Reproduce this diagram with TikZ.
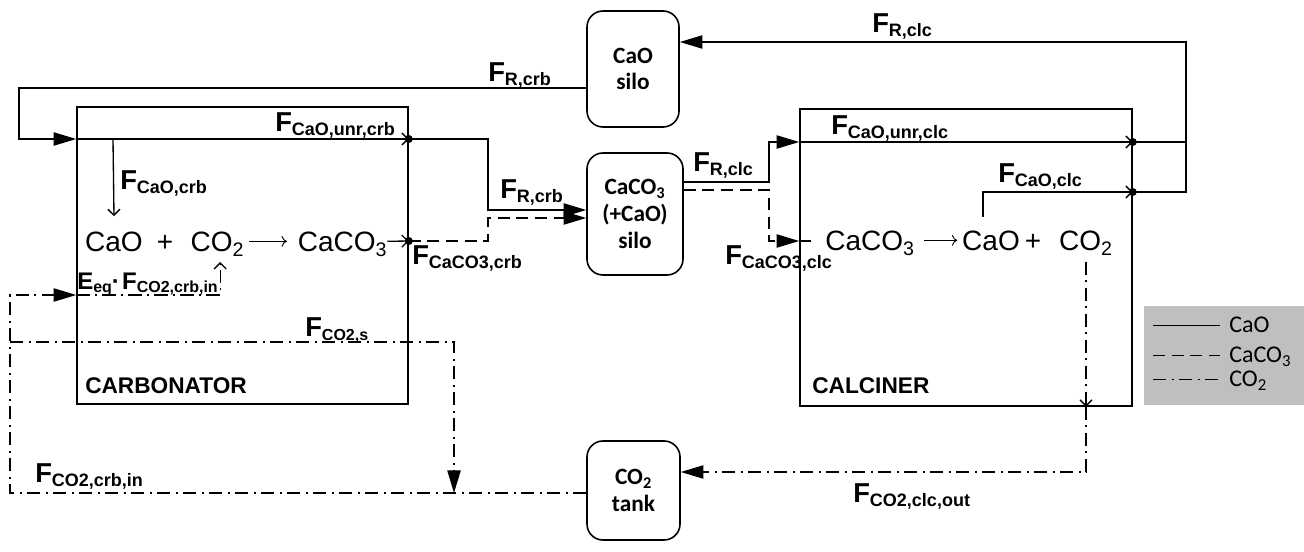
\documentclass[tikz,border=0pt]{standalone}
\usepackage{fontspec}
\setmainfont{Liberation Sans}
\newfontfamily\calibfont{Carlito}
\usepackage{tikz}
\usetikzlibrary{arrows.meta,positioning,calc}
\usepackage{xcolor}
\definecolor{LegGray}{RGB}{191,191,191}
\newcommand{\flw}[3][13.5]{\textbf{\fontsize{20.5}{20}\selectfont #2\fontsize{#1}{#1}\selectfont\raisebox{-2.5pt}{#3}}}
\newcommand{\flws}[2]{\textbf{\fontsize{18}{18}\selectfont #1\fontsize{12}{12}\selectfont\raisebox{-2pt}{#2}}}

\begin{document}
\begin{tikzpicture}[x=0.75pt,y=-0.75pt,
    cao/.style={line width=1pt},
    caco/.style={line width=1pt,dash pattern=on 9pt off 5pt},
    cotwo/.style={line width=1pt,dash pattern=on 10pt off 4pt on 1.5pt off 4pt},
    bigtip/.style={-{Triangle[length=17pt,width=10pt]}},
    smalltip/.style={-{Straight Barb[length=4.5pt,width=9pt]}},
    rxn/.style={line width=0.7pt,-{To[length=4pt,width=8pt]}},
    reactor/.style={draw,line width=1.2pt,inner sep=0pt},
    silo/.style={draw,line width=1.2pt,rounded corners=12pt,align=center,
      font=\calibfont\bfseries\fontsize{17.5}{20}\selectfont},
    chem/.style={anchor=base,inner sep=0pt,font=\fontsize{21}{21}\selectfont},
    lbl/.style={anchor=base west,inner sep=0pt},
    legtxt/.style={anchor=base west,inner sep=0pt,font=\calibfont\fontsize{18}{18}\selectfont},
    jdot/.style={circle,fill,inner sep=0pt,minimum size=6pt}]
  \useasboundingbox (0,0) rectangle (1304,552);

  % reactors and silos
  \node[reactor,minimum width=248.25pt,minimum height=222.75pt] (crb) at (242.5,255.5) {};
  \node[reactor,minimum width=249pt,minimum height=222.75pt] (clc) at (966,257.5) {};
  \node[lbl,font=\bfseries\fontsize{17}{17}\selectfont] (crbname) at (85,393) {CARBONATOR};
  \node[lbl,font=\bfseries\fontsize{17}{17}\selectfont] (clcname) at (812,393) {CALCINER};
  \node[silo,minimum width=69pt,minimum height=87pt] (caosilo) at (633,69) {CaO\\silo};
  \node[silo,minimum width=72pt,minimum height=91.5pt] (cacosilo) at (635,214) {CaCO\textsubscript{3}\\(+CaO)\\silo};
  \node[silo,minimum width=69.75pt,minimum height=74.25pt] (cotank) at (633.5,490.5) {CO\textsubscript{2}\\tank};

  % carbonation
  \node[chem] (crbCaO) at (114,252) {CaO};
  \node[chem] (crbPlus) at (165,252) {+};
  \node[chem] (crbCO2) at (217.5,252) {CO\textsubscript{2}};
  \node[chem] (crbCaCO3) at (342.5,252) {CaCO\textsubscript{3}};
  \draw[rxn] ([xshift=3.5pt,yshift=8pt]crbCO2.base east) -- ([xshift=-8pt,yshift=8pt]crbCaCO3.base west);

  % calcination
  \node[chem] (clcCaCO3) at (870,251) {CaCO\textsubscript{3}};
  \node[chem] (clcCaO) at (991,251) {CaO};
  \node[chem] (clcPlus) at (1033,251) {+};
  \node[chem] (clcCO2) at (1086,251) {CO\textsubscript{2}};
  \draw[rxn] ([xshift=7pt,yshift=8pt]clcCaCO3.base east) -- ([xshift=-3.5pt,yshift=8pt]clcCaO.base west);

  % CaO streams
  \coordinate (crbsplit) at (113,139);
  \coordinate (rjoin) at (1186,142);
  \draw[cao,bigtip] (caosilo.west |- 0,88) -| (19,139) -- (crb.west |- 0,139);
  \node[lbl] (lRcrb) at (488,82) {\flw{F}{R,crb}};
  \node[jdot] (j1) at (crb.east |- 0,139) {};
  \draw[cao,smalltip] (crb.west |- 0,139) -- (j1.center);
  \node[lbl] (lCaOunrcrb) at (275,132) {\flw{F}{CaO,unr,crb}};
  \draw[cao,smalltip] (crbsplit) -- ([yshift=12pt]crbCaO.north);
  \node[lbl] (lCaOcrb) at (120,190) {\flw{F}{CaO,crb}};
  \draw[cao,bigtip] (j1.center) -| (488,210) -- (cacosilo.west |- 0,210);
  \node[lbl] (lRcrb2) at (500,199) {\flw{F}{R,crb}};
  \draw[cao,bigtip] (cacosilo.east |- 0,182) -| (769,142) -- (clc.west |- 0,142);
  \node[lbl] (lRclc) at (693,172) {\flw{F}{R,clc}};
  \node[jdot] (j3) at (clc.east |- 0,142) {};
  \draw[cao,smalltip] (clc.west |- 0,142) -- (j3.center);
  \draw[cao] (j3.center) -- (rjoin);
  \node[lbl] (lCaOunrclc) at (831,135) {\flw{F}{CaO,unr,clc}};
  \node[jdot] (j4) at (clc.east |- 0,192) {};
  \draw[cao,smalltip] ([xshift=-6pt,yshift=11pt]clcCaO.north) |- (j4.center);
  \node[lbl] (lCaOclc) at (998,183) {\flw{F}{CaO,clc}};
  \draw[cao,bigtip] (j4.center) -| (1186,42) -- (caosilo.east |- 0,42);
  \node[lbl] (lRclctop) at (872,33) {\flw{F}{R,clc}};

  % CaCO3 streams
  \node[jdot] (j2) at (crb.east |- 0,241) {};
  \draw[cao,smalltip] ([yshift=8pt]crbCaCO3.base east) -- (j2.center);
  \draw[caco,bigtip] (j2.center) -| (488,218) -- (cacosilo.west |- 0,218);
  \node[lbl] (lCaCO3crb) at (412,265) {\flw{F}{CaCO3,crb}};
  \draw[caco,bigtip] (cacosilo.east |- 0,190) -| (769,241) -- (clc.west |- 0,241);
  \draw[caco] (clc.west |- 0,241) -- ++(13,0);
  \node[lbl] (lCaCO3clc) at (725,265) {\flw{F}{CaCO3,clc}};

  % CO2 streams
  \coordinate (clcout) at (clc.south -| clcCO2.base);
  \draw[cotwo,smalltip] ([yshift=-8pt]clcCO2.base) -- (clcout);
  \draw[cotwo,bigtip] (clcout) |- (cotank.east |- 0,472);
  \node[lbl] (lCO2clcout) at (853,503) {\flw{F}{CO2,clc,out}};
  \draw[cotwo,bigtip] (cotank.west |- 0,493) -| (10,295) -- (crb.west |- 0,295);
  \draw[cotwo,smalltip] (crb.west |- 0,295) -| ([xshift=2pt,yshift=-7.5pt]crbCO2.base);
  \node[lbl] (lEeq) at (77,290) {\flws{E}{eq}\textbf{\fontsize{18}{18}\selectfont·}\,\flws{F}{CO2,crb,in}};
  \node[lbl] (lCO2crbin) at (35,483) {\flw{F}{CO2,crb,in}};
  \draw[cotwo,bigtip] (10,342) -| (454,493);
  \node[lbl] (lCO2s) at (305,337) {\flw[12]{F}{CO2,s}};

  % legend
  \fill[LegGray] (1144,306) rectangle (1304,405);
  \node[legtxt] (legcao) at (1229,333) {CaO};
  \node[legtxt] (legcaco) at (1229,363) {CaCO\textsubscript{3}};
  \node[legtxt] (legco) at (1229,387) {CO\textsubscript{2}};
  \draw[cao] ([xshift=-57pt,yshift=5.5pt]legcao.base west) -- ([xshift=-7pt,yshift=5.5pt]legcao.base west);
  \draw[caco] ([xshift=-57pt,yshift=5.5pt]legcaco.base west) -- ([xshift=-7pt,yshift=5.5pt]legcaco.base west);
  \draw[cotwo] ([xshift=-57pt,yshift=5.5pt]legco.base west) -- ([xshift=-7pt,yshift=5.5pt]legco.base west);
\end{tikzpicture}
\end{document}
